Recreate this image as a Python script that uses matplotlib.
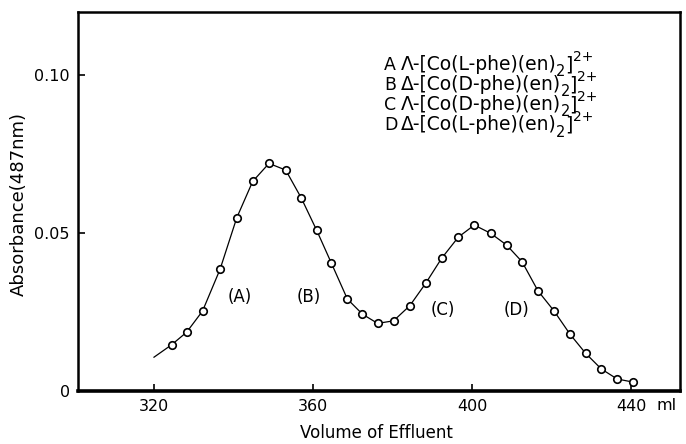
import matplotlib
matplotlib.use("Agg")
import matplotlib.pyplot as plt

# Data
volume = [324.4, 328.2, 332.2, 336.6, 340.8, 344.8, 348.9, 353.1, 357.0, 360.9,
          364.6, 368.6, 372.4, 376.2, 380.2, 384.3, 388.3, 392.3, 396.5, 400.5,
          404.6, 408.6, 412.5, 416.5, 420.5, 424.6, 428.5, 432.4, 436.4, 440.5]
absorbance = [0.0145, 0.0185, 0.0252, 0.0384, 0.0547, 0.0662, 0.0719, 0.0698, 0.0610, 0.0507,
              0.0403, 0.0290, 0.0242, 0.0213, 0.0221, 0.0269, 0.0340, 0.0419, 0.0486, 0.0524,
              0.0498, 0.0461, 0.0408, 0.0316, 0.0253, 0.0178, 0.0118, 0.0069, 0.0037, 0.0027]
curve_start_x = 320.0
curve_start_y = 0.0106

peak_labels = ["(A)", "(B)", "(C)", "(D)"]
peak_label_x = [341.5, 358.9, 392.7, 411.0]
peak_label_y = [0.0297, 0.0297, 0.0255, 0.0255]

legend_letters = ["A", "B", "C", "D"]
legend_main = ["\u039b-[Co(L-phe)(en)", "\u0394-[Co(D-phe)(en)",
               "\u039b-[Co(D-phe)(en)", "\u0394-[Co(L-phe)(en)"]
legend_sub = "2"
legend_close = "]"
legend_sup = "2+"

xticks = [320, 360, 400, 440]
xticklabels = ["320", "360", "400", "440"]
yticks = [0, 0.05, 0.10]
yticklabels = ["0", "0.05", "0.10"]

plt.rcParams['font.family'] = ['DejaVu Sans']

W, H = 686, 444
fig = plt.figure(figsize=(6.86, 4.44), dpi=100)
ax = fig.add_axes([78/W, 1 - 390.7/H, (680-78)/W, (390.7-12)/H])

ax.plot([curve_start_x] + volume, [curve_start_y] + absorbance, color='black', lw=0.9, zorder=2)
ax.plot(volume, absorbance, linestyle='none', marker='o', markersize=5.4,
        markerfacecolor='white', markeredgecolor='black', markeredgewidth=1.2, zorder=3)

for lab, lx, ly in zip(peak_labels, peak_label_x, peak_label_y):
    ax.text(lx, ly, lab, ha='center', va='center', fontsize=12)

ax.set_xlim(300.9, 452.2)
ax.set_ylim(0, 0.1198)
ax.set_xticks(xticks)
ax.set_xticklabels(xticklabels, fontsize=11.5)
ax.set_yticks(yticks)
ax.set_yticklabels(yticklabels, fontsize=11.5)
ax.tick_params(direction='in', length=5, width=1.2, pad=6)

for side in ['left', 'top', 'right']:
    ax.spines[side].set_linewidth(1.8)
ax.spines['bottom'].set_linewidth(2.6)

fig.text(667/W, 1 - 405/H, "ml", ha='center', va='center', fontsize=11.5)

fig.text(376/W, 1 - 433/H, "Volume of Effluent", ha='center', va='center', fontsize=12)
fig.text(19/W, 1 - 204/H, "Absorbance(487nm)", ha='center', va='center',
         rotation=90, fontsize=13)

renderer = fig.canvas.get_renderer()
for i, (letter, main) in enumerate(zip(legend_letters, legend_main)):
    yc = 65 + 20 * i
    fig.text(384/W, 1 - yc/H, letter, ha='left', va='center', fontsize=12.5)
    t = fig.text(401/W, 1 - yc/H, main, ha='left', va='center', fontsize=13.5)
    x1 = t.get_window_extent(renderer).x1
    s = fig.text((x1 - 0.5)/W, 1 - (yc + 7)/H, legend_sub, ha='left', va='center', fontsize=10.5)
    x2 = s.get_window_extent(renderer).x1
    c = fig.text((x2 - 0.5)/W, 1 - yc/H, legend_close, ha='left', va='center', fontsize=13.5)
    x3 = c.get_window_extent(renderer).x1
    fig.text((x3 + 0.5)/W, 1 - (yc - 8)/H, legend_sup, ha='left', va='center', fontsize=10)

fig.savefig("out.png", dpi=100)
